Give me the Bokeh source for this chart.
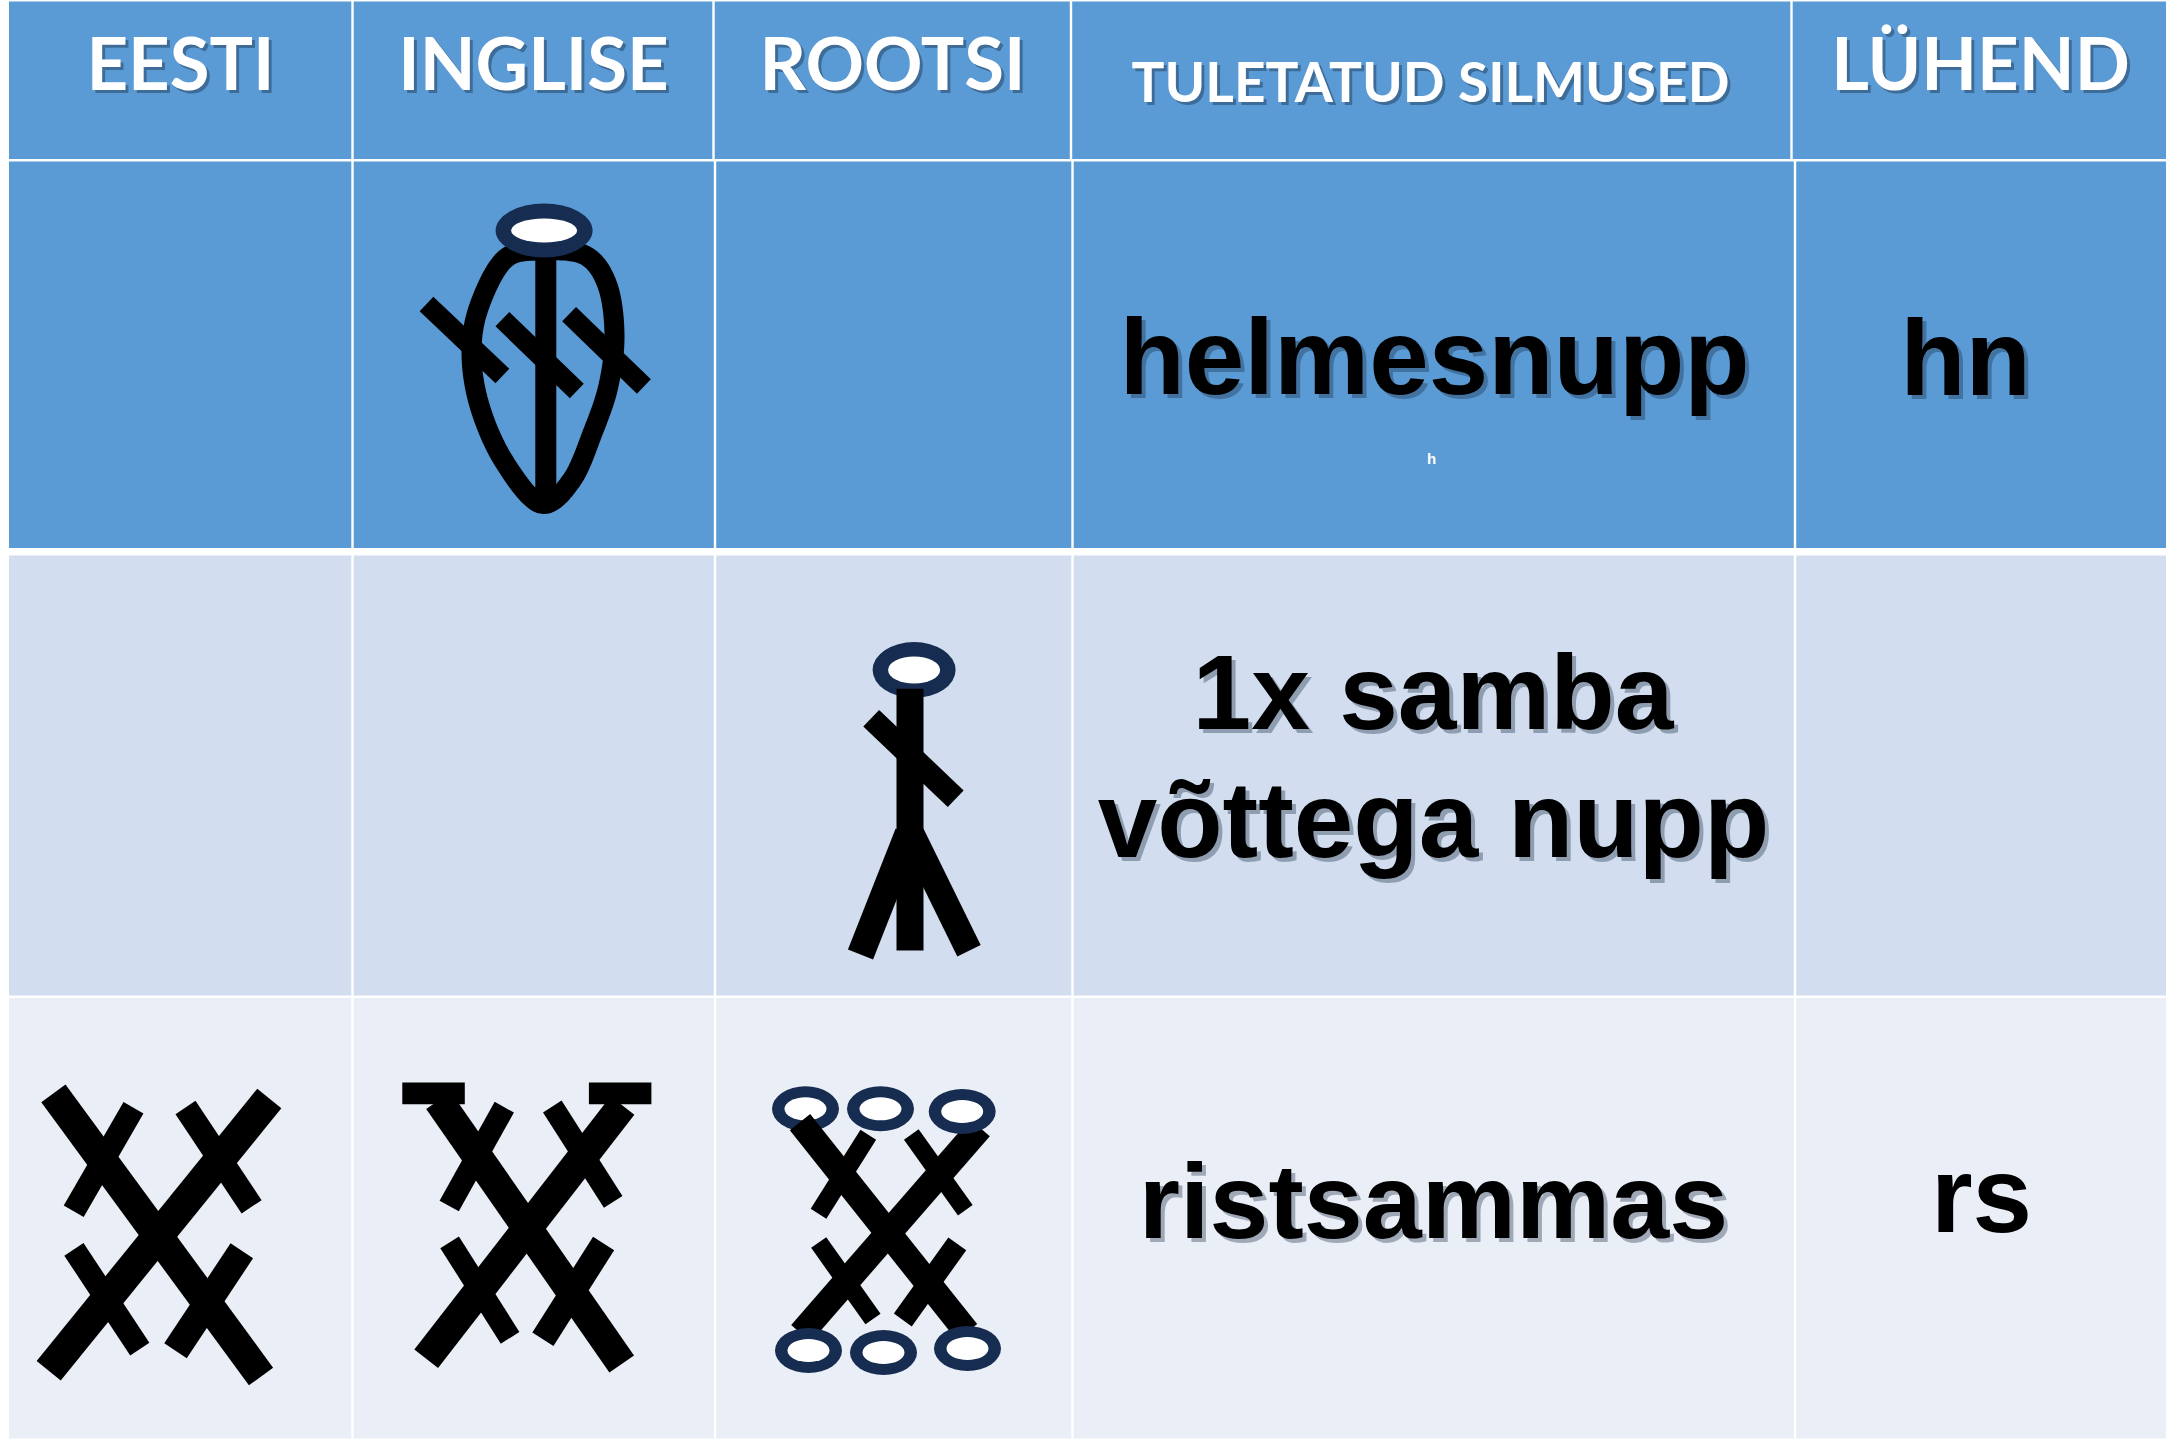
from bokeh.plotting import figure
from bokeh.models import Range1d
from bokeh.core.properties import value
from bokeh.embed import file_html
from bokeh.resources import INLINE
import numpy as np

# ---- table content ----
header_labels = ["EESTI", "INGLISE", "ROOTSI", "TULETATUD SILMUSED", "LÜHEND"]
header_x = [180, 533, 892, 1430, 1980]
header_y = [89.5, 89.5, 89.5, 101.5, 89.5]
header_size = [72.5, 72.5, 72.5, 55, 72.5]

body_labels = ["helmesnupp", "hn", "1x samba", "võttega nupp", "ristsammas", "rs"]
body_x = [1434, 1965, 1432.5, 1433, 1433, 1981]
body_y = [394, 395, 728, 857, 1238, 1232]
body_size = [107, 107, 105.5, 107, 106, 107]
shadow_flag = [1, 1, 1, 1, 1, 0]

# ---- grid ----
header_edges = [8.5, 352, 713, 1070.5, 1791, 2165.5]
body_edges = [8.5, 352, 714.5, 1072, 1794.5, 2165.5]
rows = [(1, 158.5, header_edges, "#5B9BD5"),
        (161, 547.5, body_edges, "#5B9BD5"),
        (555, 995, body_edges, "#D2DEEF"),
        (997.5, 1438, body_edges, "#EAEFF7")]

# ---- pictogram strokes: (x0, y0, x1, y1, width) ----
strokes_hn = [
    (426, 303.6, 501.9, 375.4, 20), (501.9, 318.6, 576.3, 390.5, 20),
    (568.6, 313.6, 643.4, 386, 20), (545.3, 250, 545.3, 500, 21),
]
loop_hn = [(543, 250), (505, 258), (479, 305), (471, 352), (479, 405), (503, 460), (540, 503),
           (571, 480), (593, 430), (608, 385), (614, 335), (607, 285), (585, 255)]
strokes_samba = [
    (909.5, 688.3, 909.5, 950, 27), (870.7, 717.7, 955.2, 798.3, 23),
    (907.7, 833, 860, 954, 27), (911, 833.3, 968.5, 950.3, 26),
]
strokes_eesti = [
    (52.9, 1092.8, 260.5, 1376, 30), (268.8, 1098, 48.2, 1370.3, 31),
    (133, 1107.2, 73.2, 1210.8, 23), (185, 1107, 251.1, 1206.3, 24),
    (73.4, 1248.8, 139.3, 1348.7, 23), (241.3, 1250.3, 175, 1350.2, 27),
]
strokes_inglise = [
    (438, 1100, 621.2, 1363.5, 30), (622, 1105, 425.7, 1358.3, 30),
    (503.8, 1106.7, 448.7, 1205.5, 22), (551.8, 1106, 612.7, 1201.3, 22),
    (449.1, 1241.8, 509.6, 1337.3, 22), (603.1, 1243, 542.4, 1338.7, 25),
]
bars_inglise = [(401.8, 464.3, 1082, 1103.7), (588.4, 650.9, 1082, 1103.7)]
strokes_rootsi = [
    (799.5, 1121.7, 966.5, 1331.7, 26), (979.5, 1127.3, 800.5, 1333, 26),
    (867.8, 1134.2, 818, 1213.2, 18.5), (910.8, 1134, 964.8, 1209.7, 18),
    (818.2, 1242, 872.5, 1318.5, 18.5), (956.8, 1243.3, 902.3, 1319.5, 22),
]
# rings: (cx, cy, outer_w, outer_h, inner_w, inner_h)
rings_under = [(913.6, 669.5, 83, 56, 52, 27),
               (805, 1108.3, 67, 45, 42, 23), (880, 1108.3, 67, 45, 42, 23)]
rings_over = [(543.6, 230, 97, 54, 66, 24),
              (961.7, 1111, 67, 45, 42, 23),
              (808, 1350, 67, 45, 42, 23), (883, 1352, 67, 45, 42, 23), (967, 1348, 67, 45, 42, 23)]

RING = "#172C51"
LATO_SHIFT = 0.39      # alphabetic anchor offset of the SVG text, in em
LIB_SHIFT = 0.35


def catmull(pts, n=12):
    pts = np.array(pts, float)
    pts = np.vstack([pts[-1], pts, pts[0], pts[1]])
    out = []
    for i in range(1, len(pts) - 2):
        p0, p1, p2, p3 = pts[i - 1], pts[i], pts[i + 1], pts[i + 2]
        for t in np.linspace(0, 1, n, endpoint=False):
            out.append(0.5 * ((2 * p1) + (-p0 + p2) * t + (2 * p0 - 5 * p1 + 4 * p2 - p3) * t ** 2
                              + (-p0 + 3 * p1 - 3 * p2 + p3) * t ** 3))
    out.append(pts[-2])
    return np.array(out)


p = figure(width=2173, height=1440, output_backend="svg", toolbar_location=None,
           x_range=Range1d(0, 2173), y_range=Range1d(1440, 0),
           min_border=0, x_axis_type=None, y_axis_type=None,
           background_fill_color="white", border_fill_color="white", outline_line_color=None)
p.grid.visible = False
p.styles = {"position": "absolute", "left": "0", "top": "0"}

# cells
L, R, T, B, C = [], [], [], [], []
for top, bottom, edges, col in rows:
    for i in range(5):
        L.append(edges[i] + (1.2 if i else 0))
        R.append(edges[i + 1] - (1.2 if i < 4 else 0))
        T.append(top)
        B.append(bottom)
        C.append(col)
p.quad(left=L, right=R, top=T, bottom=B, fill_color=C, line_color=None)


def draw_strokes(s):
    p.multi_line(xs=[[a[0], a[2]] for a in s], ys=[[a[1], a[3]] for a in s],
                 line_width=[a[4] for a in s], line_color="black", line_cap="butt")


def draw_rings(r):
    xs = [a[0] for a in r]
    ys = [a[1] for a in r]
    p.ellipse(x=xs, y=ys, width=[a[2] for a in r], height=[a[3] for a in r],
              fill_color=RING, line_color=None)
    p.ellipse(x=xs, y=ys, width=[a[4] for a in r], height=[a[5] for a in r],
              fill_color="white", line_color=None)


draw_rings(rings_under)

curve = catmull(loop_hn)
p.line(curve[:, 0], curve[:, 1], line_color="black", line_width=20, line_join="round")
p.patch([517, 538, 541, 558, 555, 530], [491, 490, 512, 500, 488, 506], fill_color="black", line_color=None)
draw_strokes(strokes_hn)
draw_strokes(strokes_samba)
draw_strokes(strokes_eesti)
draw_strokes(strokes_inglise)
draw_strokes(strokes_rootsi)
p.quad(left=[b[0] for b in bars_inglise], right=[b[1] for b in bars_inglise],
       top=[b[2] for b in bars_inglise], bottom=[b[3] for b in bars_inglise],
       fill_color="black", line_color=None)
draw_rings(rings_over)

# header text
hy = [y - LATO_SHIFT * s for y, s in zip(header_y, header_size)]
hsizes = [f"{s}px" for s in header_size]
p.text(x=[v + 3 for v in header_x], y=[v + 3 for v in hy], text=header_labels,
       text_font=value("Lato"), text_font_style="bold", text_font_size=hsizes,
       text_color="#14253D", text_alpha=0.4, text_align="center", text_baseline="alphabetic")
p.text(x=header_x, y=hy, text=header_labels,
       text_font=value("Lato"), text_font_style="bold", text_font_size=hsizes,
       text_color="white", text_align="center", text_baseline="alphabetic")

# body text
by = [y - LIB_SHIFT * s for y, s in zip(body_y, body_size)]
bsizes = [f"{s}px" for s in body_size]
sx = [x + 4 for x, f in zip(body_x, shadow_flag) if f]
sy = [y + 4 for y, f in zip(by, shadow_flag) if f]
st = [t for t, f in zip(body_labels, shadow_flag) if f]
ss = [s for s, f in zip(bsizes, shadow_flag) if f]
p.text(x=sx, y=sy, text=st, text_font=value("Liberation Sans"), text_font_style="bold",
       text_font_size=ss, text_color="#14253D", text_alpha=0.35,
       text_align="center", text_baseline="alphabetic")
p.text(x=body_x, y=by, text=body_labels, text_font=value("Liberation Sans"), text_font_style="bold",
       text_font_size=bsizes, text_color="black", text_align="center", text_baseline="alphabetic")
p.text(x=[1431], y=[458], text=["h"], text_font=value("Liberation Sans"), text_font_style="bold",
       text_font_size="15px", text_color="white", text_align="center", text_baseline="alphabetic")

open("out.html", "w").write(file_html(p, INLINE))
